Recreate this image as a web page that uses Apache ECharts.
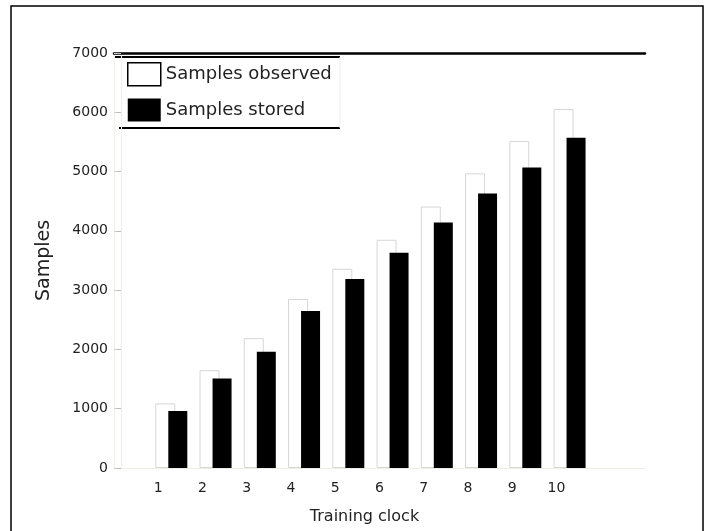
<!DOCTYPE html>
<html>
<head>
<meta charset="utf-8">
<script src="https://cdn.jsdelivr.net/npm/echarts@6/dist/echarts.min.js"></script>
<style>html,body{margin:0;padding:0;background:#fff;}#c{width:713px;height:531px;}</style>
</head>
<body>
<div id="c"></div>
<script>
// ---- data ----
const blocks = [1, 2, 3, 4, 5, 6, 7, 8, 9, 10];
const observed = [1090, 1650, 2190, 2850, 3360, 3850, 4410, 4970, 5515, 6055];
const stored = [960, 1510, 1960, 2650, 3190, 3630, 4140, 4630, 5070, 5570];
const xTickLabels = ['1', '2', '3', '4', '5', '6', '7', '8', '9', '10'];
const seriesNames = ['Samples observed', 'Samples stored'];
const xTitle = 'Training clock';
const yTitle = 'Samples';

// ---- chart ----
const FONT = 'DejaVu Sans';
const chart = echarts.init(document.getElementById('c'));
const xMin = 0, xMax = 12;
const offObs = 0.159, offSto = 0.442;

chart.setOption({
  animation: false,
  backgroundColor: '#fff',
  grid: { left: 114, right: 68, top: 53, bottom: 63 },
  xAxis: [
    {
      type: 'value', min: xMin, max: xMax, interval: 1, position: 'bottom',
      axisLine: { show: true, lineStyle: { color: '#f0ece6', width: 1 } },
      axisTick: { show: false },
      splitLine: { show: false },
      axisLabel: {
        margin: 13, fontFamily: FONT, fontSize: 14, color: '#222',
        formatter: v => (v >= 1 && v <= 10 ? xTickLabels[v - 1] : '')
      },
      name: xTitle, nameLocation: 'middle', nameGap: 41,
      nameTextStyle: { fontFamily: FONT, fontSize: 16, color: '#222', padding: [0, 30, 0, 0] }
    },
    { type: 'value', min: xMin - offObs, max: xMax - offObs, show: false },
    { type: 'value', min: xMin - offSto, max: xMax - offSto, show: false },
    {
      type: 'value', min: xMin, max: xMax, interval: 1, position: 'top',
      axisLine: { show: true, lineStyle: { color: '#000', width: 2.5 } },
      axisTick: { show: false }, axisLabel: { show: false }, splitLine: { show: false }
    }
  ],
  yAxis: [
    {
      type: 'value', min: 0, max: 7000, interval: 1000, position: 'left',
      axisLine: { show: true, lineStyle: { color: '#f2efea', width: 1 } },
      axisTick: { show: true, inside: true, length: 4, lineStyle: { color: '#ccc' } },
      splitLine: { show: false },
      axisLabel: { margin: 6, fontFamily: FONT, fontSize: 14, color: '#222', formatter: v => String(v) },
      name: yTitle, nameLocation: 'middle', nameGap: 60,
      nameTextStyle: { fontFamily: FONT, fontSize: 19, color: '#222' }
    },
    {
      type: 'value', min: 0, max: 7000, interval: 1000, position: 'right',
      axisLine: { show: true, lineStyle: { color: '#f2efea', width: 1 } },
      axisTick: { show: true, inside: true, length: 4, lineStyle: { color: '#bbb' } },
      axisLabel: { show: false }, splitLine: { show: false }
    }
  ],
  legend: {
    orient: 'vertical', left: 127, top: 62, padding: 0,
    itemWidth: 33, itemHeight: 23, itemGap: 12, icon: 'rect',
    textStyle: { fontFamily: FONT, fontSize: 18, color: '#222' },
    data: [
      { name: seriesNames[0], itemStyle: { color: '#fff', borderColor: '#000', borderWidth: 1.5 } },
      { name: seriesNames[1] }
    ]
  },
  series: [
    {
      name: seriesNames[0], type: 'bar', xAxisIndex: 1, yAxisIndex: 0,
      barWidth: 20,
      itemStyle: { color: '#fff', borderColor: '#d6d6d6', borderWidth: 1 },
      data: blocks.map((b, i) => [b, observed[i]])
    },
    {
      name: seriesNames[1], type: 'bar', xAxisIndex: 2, yAxisIndex: 0,
      barWidth: 19,
      itemStyle: { color: '#000' },
      data: blocks.map((b, i) => [b, stored[i]])
    }
  ],
  graphic: [
    { type: 'rect', shape: { x: 11, y: 6, width: 692, height: 540 },
      style: { fill: 'none', stroke: '#000', lineWidth: 1.5 }, silent: true },
    { type: 'line', shape: { x1: 115, y1: 57, x2: 340, y2: 57 },
      style: { stroke: '#000', lineWidth: 2 }, silent: true },
    { type: 'line', shape: { x1: 119, y1: 128, x2: 340, y2: 128 },
      style: { stroke: '#000', lineWidth: 2 }, silent: true },
    { type: 'line', shape: { x1: 340, y1: 57, x2: 340, y2: 128 },
      style: { stroke: '#eee', lineWidth: 1 }, silent: true }
  ]
});
</script>
</body>
</html>
